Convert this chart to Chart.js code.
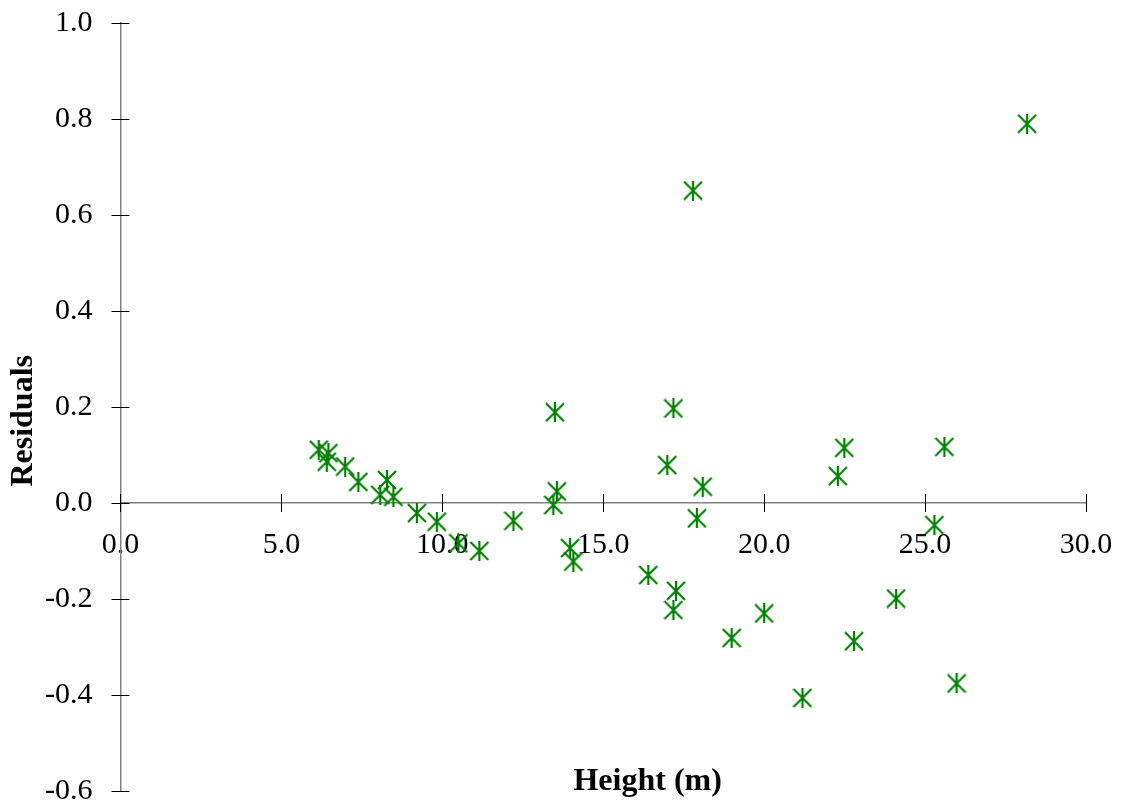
<!DOCTYPE html>
<html>
<head>
<meta charset="utf-8">
<title>Residuals vs Height</title>
<script src="https://cdn.jsdelivr.net/npm/chart.js@4/dist/chart.umd.min.js"></script>
<style>
    html, body { margin: 0; padding: 0; background: #fff; }
    #wrap { width: 1127px; height: 803px; }
</style>
</head>
<body>
<div id="wrap"><canvas id="residual-chart"></canvas></div>
<script>
// Tree heights (m) and the model residuals at each height
const heights = [
    6.16, 6.46, 6.41, 6.98, 7.39, 8.28, 8.07, 8.48, 9.21, 9.83,
    10.50, 11.15, 12.21, 13.56, 13.45, 13.97, 14.07, 13.50, 17.18, 16.99,
    18.09, 17.91, 16.40, 17.26, 17.18, 22.49, 22.29, 25.60, 25.29, 24.10,
    20.00, 18.99, 22.79, 21.19, 25.98, 17.79, 28.17
];
const residuals = [
    0.111, 0.104, 0.086, 0.076, 0.044, 0.048, 0.017, 0.013, -0.021, -0.039,
    -0.084, -0.100, -0.037, 0.024, -0.004, -0.094, -0.122, 0.189, 0.197, 0.079,
    0.034, -0.032, -0.150, -0.183, -0.223, 0.115, 0.056, 0.117, -0.046, -0.199,
    -0.230, -0.281, -0.288, -0.406, -0.376, 0.651, 0.790
];

const xTitle = 'Height (m)';
const yTitle = 'Residuals';

const serif = '"Liberation Serif", "Times New Roman", serif';
const markerGreen = '#008000';

// Asterisk marker: an X with a vertical stroke through it
function makeAsterisk(size, color) {
    const c = document.createElement('canvas');
    c.width = size;
    c.height = size;
    const g = c.getContext('2d');
    g.strokeStyle = color;
    g.lineWidth = 2.2;
    g.beginPath();
    g.moveTo(1, 1); g.lineTo(size - 1, size - 1);
    g.moveTo(size - 1, 1); g.lineTo(1, size - 1);
    g.moveTo(size / 2, 0); g.lineTo(size / 2, size);
    g.stroke();
    return c;
}

// Let layout.padding alone decide where the plot area sits
function dropLabelPadding(scale) {
    scale.paddingTop = 0;
    scale.paddingBottom = 0;
    scale.paddingLeft = 0;
    scale.paddingRight = 0;
}

// Short black ticks that cross both axis lines
const crossTicks = {
    id: 'crossTicks',
    afterDatasetsDraw(chart) {
        const ctx = chart.ctx;
        const xs = chart.scales.x;
        const ys = chart.scales.y;
        const half = 9;
        const axisY = ys.getPixelForValue(0);
        const axisX = xs.getPixelForValue(0);
        ctx.save();
        ctx.strokeStyle = '#000';
        ctx.lineWidth = 1;
        ctx.beginPath();
        xs.ticks.forEach(t => {
            const px = Math.round(xs.getPixelForValue(t.value)) + 0.5;
            ctx.moveTo(px, axisY - half);
            ctx.lineTo(px, axisY + half);
        });
        ys.ticks.forEach(t => {
            const py = Math.round(ys.getPixelForValue(t.value)) + 0.5;
            ctx.moveTo(axisX - half, py);
            ctx.lineTo(axisX + half, py);
        });
        ctx.stroke();
        ctx.restore();
    }
};

// Axis titles placed relative to the plot area
const axisTitles = {
    id: 'axisTitles',
    afterDraw(chart) {
        const ctx = chart.ctx;
        const area = chart.chartArea;
        ctx.save();
        ctx.fillStyle = '#000';
        ctx.font = 'bold 32px ' + serif;
        ctx.textAlign = 'center';
        ctx.textBaseline = 'middle';
        ctx.fillText(xTitle, area.left + area.width * 0.546, area.bottom - 9);

        ctx.translate(24, area.top + area.height * 0.518);
        ctx.rotate(-Math.PI / 2);
        ctx.fillText(yTitle, 0, 0);
        ctx.restore();
    }
};

const points = heights.map((h, i) => ({ x: h, y: residuals[i] }));

new Chart(document.getElementById('residual-chart'), {
    type: 'scatter',
    data: {
        datasets: [{
            label: yTitle,
            data: points,
            pointStyle: makeAsterisk(20, markerGreen),
            pointRadius: 10,
            borderColor: markerGreen,
            backgroundColor: markerGreen
        }]
    },
    options: {
        responsive: true,
        maintainAspectRatio: false,
        animation: false,
        layout: {
            padding: { left: 17, right: 41, top: 23, bottom: 12 }
        },
        plugins: {
            legend: { display: false },
            tooltip: { enabled: false }
        },
        scales: {
            x: {
                type: 'linear',
                position: { y: 0 },
                min: 0,
                max: 30,
                afterFit: dropLabelPadding,
                grid: { display: false, drawTicks: false },
                border: { display: true, color: '#808080', width: 1.5 },
                ticks: {
                    stepSize: 5,
                    padding: 24,
                    color: '#000',
                    font: { family: serif, size: 30 },
                    maxRotation: 0,
                    callback: v => v.toFixed(1)
                }
            },
            y: {
                type: 'linear',
                position: 'left',
                min: -0.6,
                max: 1.0,
                afterFit: dropLabelPadding,
                grid: { display: false, drawTicks: false },
                border: { display: true, color: '#808080', width: 1.5 },
                ticks: {
                    stepSize: 0.2,
                    padding: 28,
                    color: '#000',
                    font: { family: serif, size: 30 },
                    callback: v => v.toFixed(1)
                }
            }
        }
    },
    plugins: [crossTicks, axisTitles]
});
</script>
</body>
</html>
